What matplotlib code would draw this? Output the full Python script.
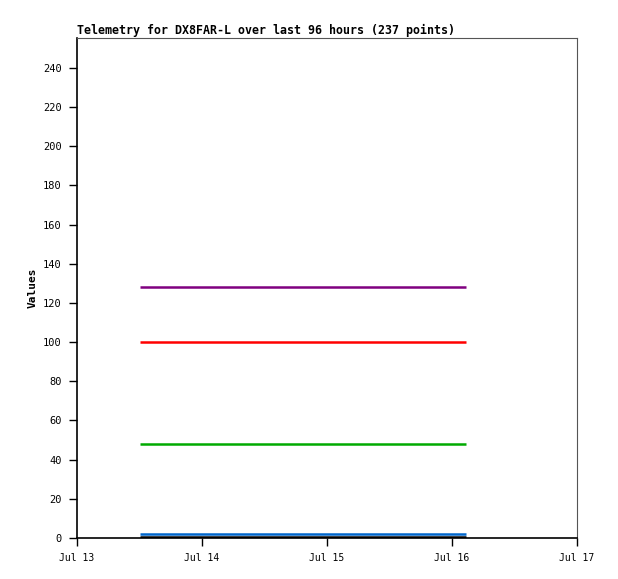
import numpy as np
import datetime
import matplotlib
matplotlib.use('Agg')
import matplotlib.pyplot as plt
import matplotlib.dates as mdates

# Telemetry channels, each one flat over the time window
t_start = datetime.datetime(2024, 7, 13, 12, 5)
t_end = datetime.datetime(2024, 7, 16, 2, 40)
channels = ['ch1', 'ch2', 'ch3', 'ch4', 'ch5']
values = [128, 100, 48, 2, 0.5]
colors = ['#800080', '#ff0000', '#00aa00', '#0066cc', '#000000']

plt.rcParams['font.family'] = 'DejaVu Sans Mono'

fig = plt.figure(figsize=(6.18, 5.79), dpi=100)
ax = fig.add_axes([77/618, 1 - 538/579, 500/618, 500/579])

for name, v, c in zip(channels, values, colors):
    ax.plot([t_start, t_end], [v, v], color=c, lw=1.8, solid_capstyle='butt', label=name)

ax.set_xlim(datetime.datetime(2024, 7, 13), datetime.datetime(2024, 7, 17))
ax.set_ylim(0, 255.3)
ax.set_yticks(np.arange(0, 241, 20))
ax.xaxis.set_major_locator(mdates.DayLocator())
ax.xaxis.set_major_formatter(mdates.DateFormatter('%b %d'))

ax.tick_params(axis='y', labelsize=7.5, length=6, width=1, direction='out', pad=5)
ax.tick_params(axis='x', labelsize=7, length=6, width=1, direction='out', pad=5)
ax.spines['top'].set_color('#555555')
ax.spines['right'].set_color('#555555')
for s in ['left', 'bottom']:
    ax.spines[s].set_linewidth(1.2)

ax.set_ylabel('Values', fontsize=8, fontweight='bold', labelpad=4)
ax.set_title('Telemetry for DX8FAR-L over last 96 hours (237 points)',
             fontsize=8.4, fontweight='bold', loc='left', pad=3)

fig.savefig('out.png', dpi=100)
plt.close()
